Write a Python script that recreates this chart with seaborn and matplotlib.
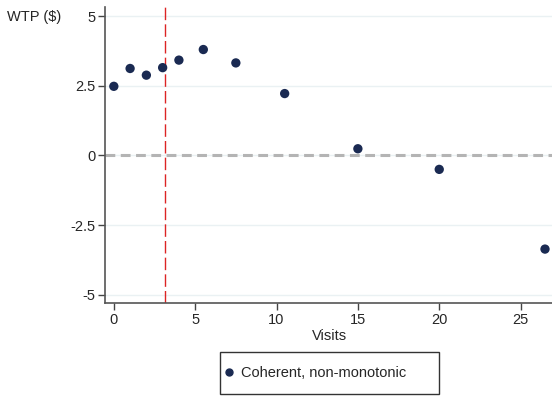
import numpy as np
import pandas as pd
import matplotlib
matplotlib.use('Agg')
import matplotlib.pyplot as plt
from matplotlib.patches import Rectangle
import seaborn as sns

visits = [0, 1, 2, 3, 4, 5.5, 7.5, 10.5, 15, 20, 26.5]
wtp = [2.48, 3.12, 2.88, 3.15, 3.42, 3.80, 3.32, 2.22, 0.24, -0.50, -3.36]
series_label = 'Coherent, non-monotonic'
cutoff = 3.15
x_ticks = [0, 5, 10, 15, 20, 25]
y_ticks = [-5, -2.5, 0, 2.5, 5]
y_tick_labels = ['-5', '-2.5', '0', '2.5', '5']

df = pd.DataFrame({'Visits': visits, 'WTP': wtp, 'group': series_label})

sns.set_style('white')
plt.rcParams['font.family'] = ['Liberation Sans', 'DejaVu Sans']

fig = plt.figure(figsize=(5.52, 3.98), dpi=100)
ax = fig.add_axes([0.190, 0.239, 0.815, 0.743])

for yv in y_ticks:
    ax.axhline(yv, color='#eaf1f3', lw=1, zorder=0)
ax.axhline(0, color='#b4b4b4', lw=2.2, ls=(0, (3.2, 1.8)), zorder=1)
ax.axvline(cutoff, color='#dc2424', lw=1, ls=(0, (9, 3)), zorder=1)

sns.scatterplot(data=df, x='Visits', y='WTP', hue='group', palette=['#1a2a52'],
                s=45, edgecolor='none', ax=ax, zorder=3, legend=False)

ax.set_xlim(-0.55, 27.1)
ax.set_ylim(-5.29, 5.32)
ax.set_xticks(x_ticks)
ax.set_yticks(y_ticks)
ax.set_yticklabels(y_tick_labels)
ax.tick_params(axis='both', direction='out', length=5, width=1, color='#444444',
               labelsize=10.5, pad=2, left=True, bottom=True)
for side in ['top', 'right']:
    ax.spines[side].set_visible(False)
for side in ['left', 'bottom']:
    ax.spines[side].set_color('#555555')
    ax.spines[side].set_linewidth(1.2)

ax.set_xlabel('Visits', fontsize=10.5, labelpad=1.5)
ax.set_ylabel('')
fig.text(0.013, 0.957, 'WTP ($)', fontsize=10.5, ha='left', va='center')

# legend box (Stata-style, wider than its contents)
fig.patches.append(Rectangle((0.3986, 0.0101), 0.3967, 0.1055, transform=fig.transFigure,
                             fill=False, edgecolor='#333333', linewidth=1))
handle = plt.Line2D([], [], marker='o', ls='none', color='#1a2a52', markersize=5)
fig.legend([handle], [series_label], loc='center left', bbox_to_anchor=(0.4016, 0.0628),
           frameon=False, fontsize=10.5, handletextpad=0.32, borderpad=0,
           handlelength=1.0, borderaxespad=0)

fig.savefig('out.png', dpi=100)
